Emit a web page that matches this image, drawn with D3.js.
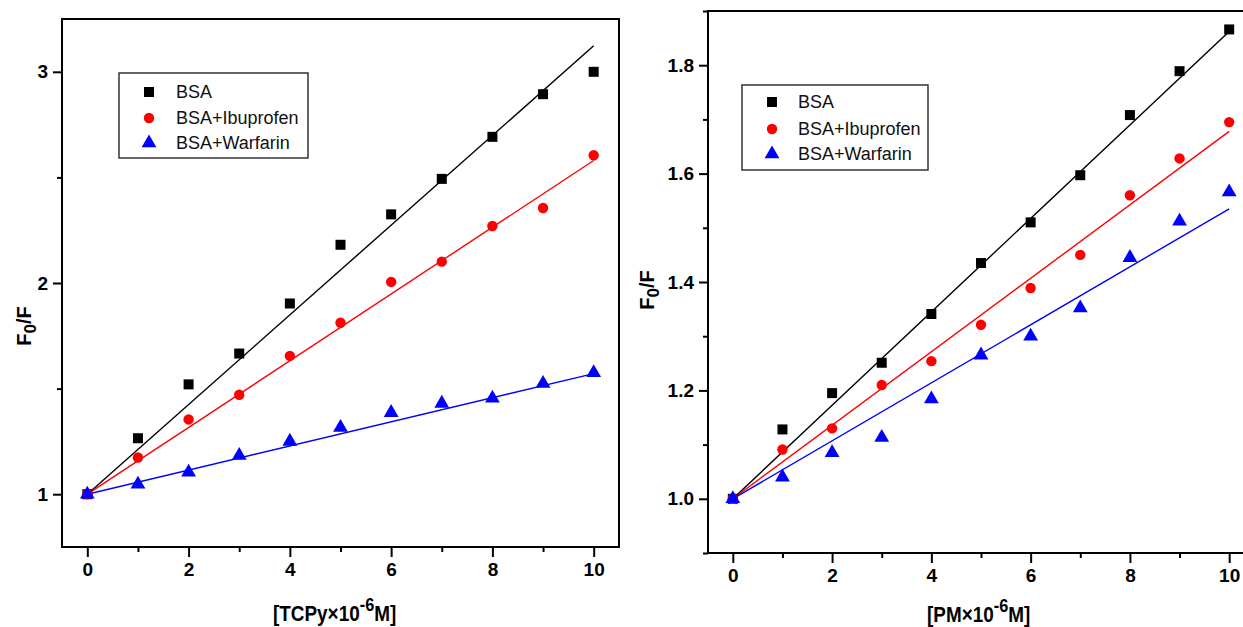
<!DOCTYPE html>
<html>
<head>
<meta charset="utf-8">
<script src="https://cdn.jsdelivr.net/npm/d3@7"></script>
<style>
  html, body { margin: 0; padding: 0; background: #fff; }
  svg { display: block; }
  text { font-family: "Liberation Sans", Arial, sans-serif; }
</style>
</head>
<body>
<svg id="chart" width="1243" height="627"></svg>
<script>
// ---------- DATA ----------
const xValues = [0, 1, 2, 3, 4, 5, 6, 7, 8, 9, 10];
const seriesNames = ["BSA", "BSA+Ibuprofen", "BSA+Warfarin"];

// Left panel: TCPy
const leftBSA       = [1.0, 1.265, 1.52, 1.666, 1.903, 2.181, 2.325, 2.493, 2.692, 2.894, 3.0];
const leftIbuprofen = [1.0, 1.174, 1.354, 1.471, 1.655, 1.812, 2.005, 2.101, 2.27, 2.355, 2.605];
const leftWarfarin  = [1.0, 1.047, 1.104, 1.183, 1.25, 1.316, 1.386, 1.43, 1.454, 1.524, 1.575];
const leftFitX = [0, 10];
const leftFitBSA       = [1.0, 3.123];
const leftFitIbuprofen = [1.0, 2.58];
const leftFitWarfarin  = [1.0, 1.571];
const leftYTicks = [1, 2, 3];
const leftYMinor = [1.5, 2.5];

// Right panel: PM
const rightBSA       = [1.0, 1.128, 1.195, 1.251, 1.341, 1.435, 1.51, 1.597, 1.708, 1.789, 1.866];
const rightIbuprofen = [1.0, 1.091, 1.13, 1.21, 1.254, 1.321, 1.389, 1.45, 1.56, 1.628, 1.695];
const rightWarfarin  = [1.0, 1.04, 1.085, 1.113, 1.184, 1.265, 1.3, 1.352, 1.445, 1.512, 1.566];
const rightFitX = [0, 10];
const rightFitBSA       = [1.0, 1.862];
const rightFitIbuprofen = [1.0, 1.678];
const rightFitWarfarin  = [1.0, 1.535];
const rightYTicks = [1.0, 1.2, 1.4, 1.6, 1.8];
const rightYMinor = [0.9, 1.1, 1.3, 1.5, 1.7, 1.9];

const xMajorTicks = [0, 2, 4, 6, 8, 10];
const xMinorTicks = [1, 3, 5, 7, 9];
const colors = ["#000000", "#ff0000", "#0000ff"];
const symbols = [d3.symbolSquare, d3.symbolCircle, d3.symbolTriangle];

// ---------- DRAW ----------
const svg = d3.select("#chart");

function drawPanel(cfg) {
  const g = svg.append("g");
  const x = d3.scaleLinear().domain([-0.5, 10.5]).range([cfg.left, cfg.right]);
  const y = d3.scaleLinear().domain(cfg.yDomain).range([cfg.bottom, cfg.top]);

  // frame
  g.append("rect")
    .attr("x", cfg.left).attr("y", cfg.top)
    .attr("width", cfg.right - cfg.left).attr("height", cfg.bottom - cfg.top)
    .attr("fill", "none").attr("stroke", "#000").attr("stroke-width", 2);

  // x axis ticks
  const xAxis = d3.axisBottom(x).tickValues(xMajorTicks).tickSize(10).tickPadding(6)
    .tickFormat(d3.format("d"));
  const xa = g.append("g").attr("transform", `translate(0,${cfg.bottom})`).call(xAxis);
  xa.select(".domain").remove();
  xa.selectAll("line").attr("stroke-width", 2);
  xa.selectAll("text").attr("font-size", 19).attr("font-weight", "bold").attr("fill", "#000")
    .attr("font-family", "Liberation Sans, Arial, sans-serif");
  const xm = g.append("g").attr("transform", `translate(0,${cfg.bottom})`)
    .call(d3.axisBottom(x).tickValues(xMinorTicks).tickSize(5).tickFormat(""));
  xm.select(".domain").remove();
  xm.selectAll("line").attr("stroke-width", 2);

  // y axis ticks
  const yAxis = d3.axisLeft(y).tickValues(cfg.yTicks).tickSize(9).tickPadding(5)
    .tickFormat(cfg.yFormat);
  const ya = g.append("g").attr("transform", `translate(${cfg.left},0)`).call(yAxis);
  ya.select(".domain").remove();
  ya.selectAll("line").attr("stroke-width", 2);
  ya.selectAll("text").attr("font-size", 19).attr("font-weight", "bold").attr("fill", "#000")
    .attr("font-family", "Liberation Sans, Arial, sans-serif");
  const ym = g.append("g").attr("transform", `translate(${cfg.left},0)`)
    .call(d3.axisLeft(y).tickValues(cfg.yMinor).tickSize(5).tickFormat(""));
  ym.select(".domain").remove();
  ym.selectAll("line").attr("stroke-width", 2);

  // fit lines
  const line = d3.line().x(d => x(d[0])).y(d => y(d[1]));
  cfg.fits.forEach((fit, i) => {
    g.append("path")
      .datum(cfg.fitX.map((xv, k) => [xv, fit[k]]))
      .attr("d", line)
      .attr("fill", "none").attr("stroke", colors[i]).attr("stroke-width", 1.4);
  });

  // points
  const sizes = [100, 85, 95];
  cfg.series.forEach((vals, i) => {
    g.append("g").selectAll("path")
      .data(xValues.map((xv, k) => [xv, vals[k]]))
      .join("path")
      .attr("transform", d => `translate(${x(d[0])},${y(d[1])})`)
      .attr("d", d3.symbol().type(symbols[i]).size(sizes[i]))
      .attr("fill", colors[i]);
  });

  // legend
  const lg = g.append("g");
  lg.append("rect")
    .attr("x", cfg.legend.x).attr("y", cfg.legend.y)
    .attr("width", cfg.legend.w).attr("height", cfg.legend.h)
    .attr("fill", "#fff").attr("stroke", "#333").attr("stroke-width", 1.5);
  seriesNames.forEach((name, i) => {
    const cy = cfg.legend.rows[i];
    lg.append("path")
      .attr("transform", `translate(${cfg.legend.mx},${cy})`)
      .attr("d", d3.symbol().type(symbols[i]).size(sizes[i]))
      .attr("fill", colors[i]);
    lg.append("text")
      .attr("x", cfg.legend.tx).attr("y", cy)
      .attr("dy", "0.36em")
      .attr("font-size", 18).attr("fill", "#111")
      .text(name);
  });

  // y title
  const yt = g.append("text")
    .attr("transform", `translate(${cfg.yTitle[0]},${cfg.yTitle[1]}) rotate(-90)`)
    .attr("text-anchor", "middle")
    .attr("dy", "0.36em")
    .attr("font-size", 20).attr("font-weight", "bold").attr("fill", "#000");
  yt.append("tspan").text("F");
  yt.append("tspan").attr("font-size", 17).attr("dy", 5).text("0");
  yt.append("tspan").attr("dy", -5).text("/F");

  // x title
  const xt = g.append("text")
    .attr("transform", `translate(${cfg.xTitle[0]},${cfg.xTitle[1]}) scale(0.86,1)`)
    .attr("text-anchor", "start")
    .attr("font-size", 22).attr("font-weight", "bold").attr("fill", "#000");
  xt.append("tspan").text(cfg.xTitleMain);
  xt.append("tspan").attr("dy", -10).attr("font-size", 19).text("-6");
  xt.append("tspan").attr("dy", 10).text("M]");
}

drawPanel({
  left: 62, right: 619, top: 19, bottom: 547,
  yDomain: [0.75, 3.25], yTicks: leftYTicks, yMinor: leftYMinor,
  yFormat: d3.format("d"),
  series: [leftBSA, leftIbuprofen, leftWarfarin],
  fitX: leftFitX, fits: [leftFitBSA, leftFitIbuprofen, leftFitWarfarin],
  legend: { x: 119, y: 73, w: 189, h: 85, mx: 149, tx: 176, rows: [92, 118, 143] },
  yTitle: [24, 326],
  xTitle: [273, 621], xTitleMain: "[TCPy\u00d710"
});

drawPanel({
  left: 708, right: 1254, top: 11, bottom: 553,
  yDomain: [0.9, 1.9], yTicks: rightYTicks, yMinor: rightYMinor,
  yFormat: d3.format(".1f"),
  series: [rightBSA, rightIbuprofen, rightWarfarin],
  fitX: rightFitX, fits: [rightFitBSA, rightFitIbuprofen, rightFitWarfarin],
  legend: { x: 742, y: 85, w: 186, h: 85, mx: 772, tx: 798, rows: [102, 129, 154] },
  yTitle: [647, 290],
  xTitle: [927, 622], xTitleMain: "[PM\u00d710"
});
</script>
</body>
</html>
